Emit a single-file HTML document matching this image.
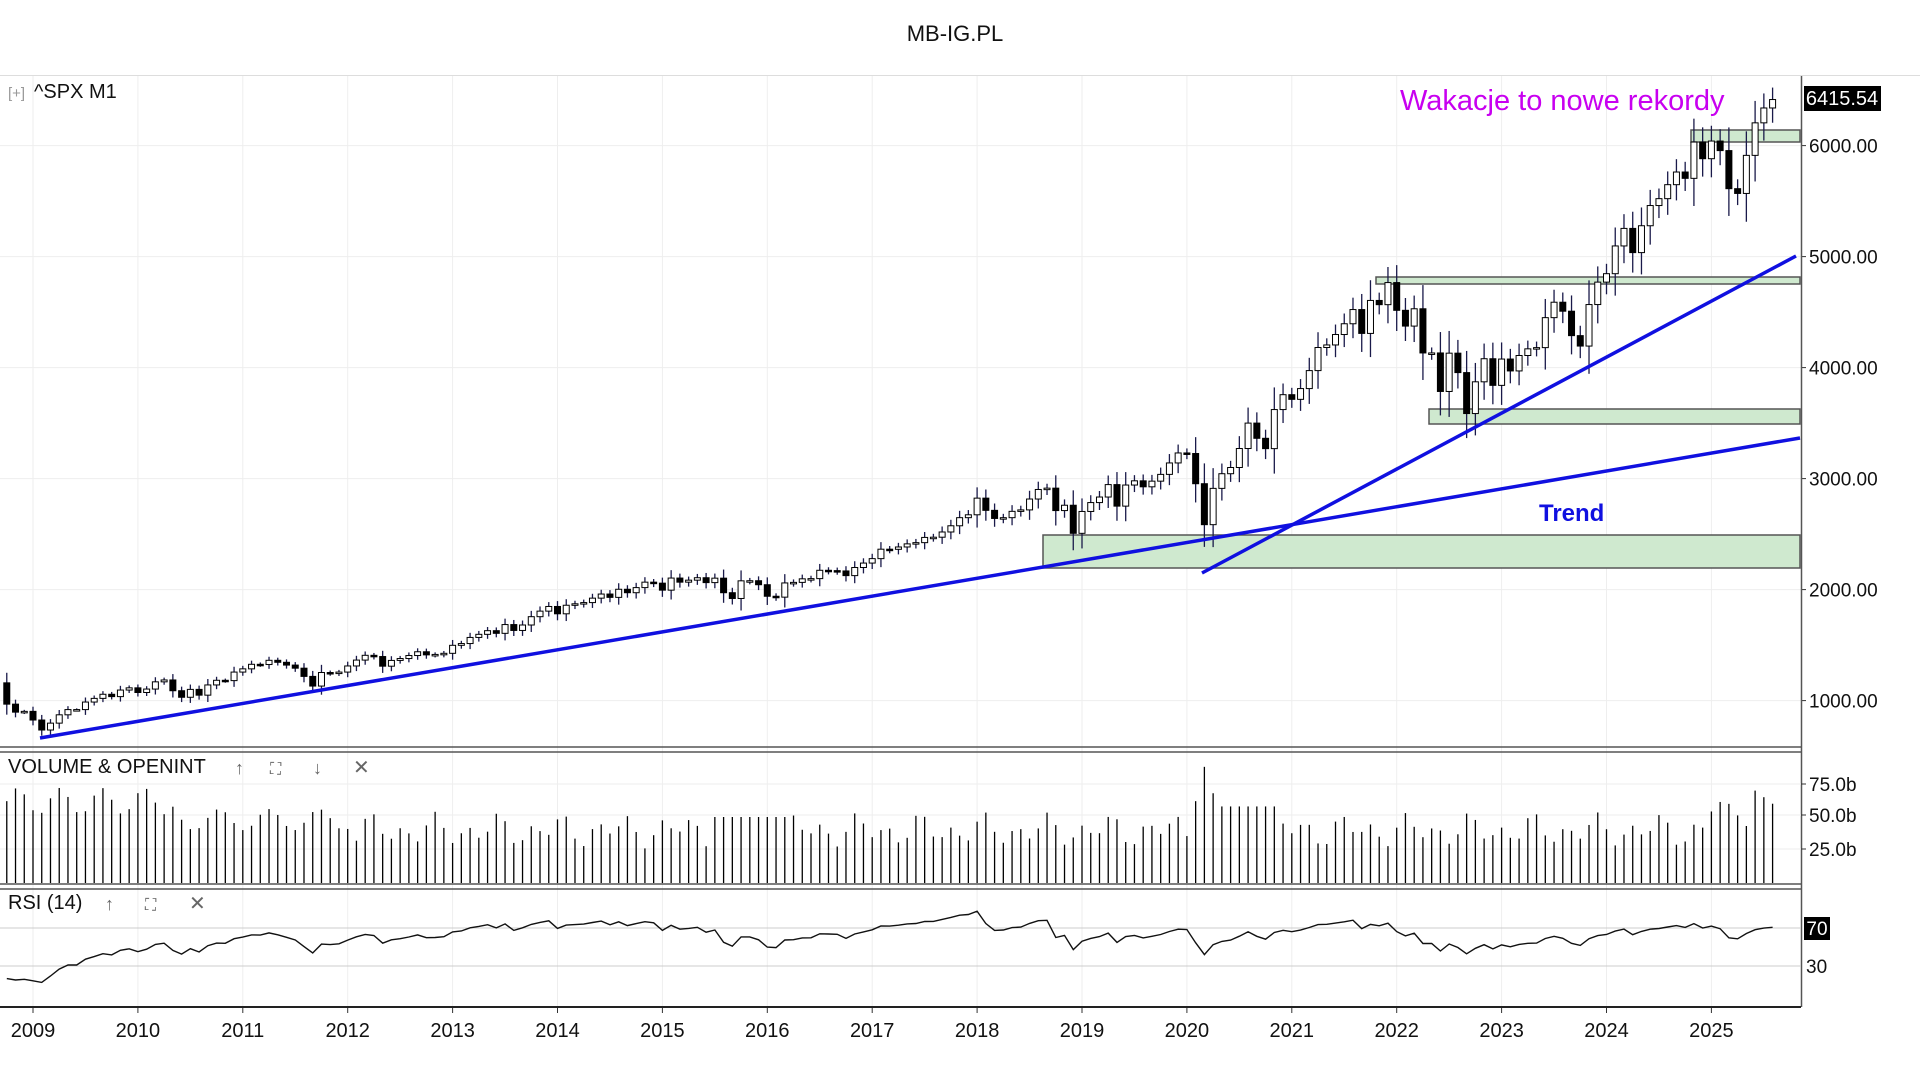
<!DOCTYPE html>
<html><head><meta charset="utf-8"><style>
html,body{margin:0;padding:0;background:#fff;width:1920px;height:1080px;overflow:hidden;font-family:"Liberation Sans",sans-serif}
</style></head><body>
<svg id="s" width="1920" height="1080" xmlns="http://www.w3.org/2000/svg" font-family="Liberation Sans, sans-serif"></svg>
<script>
const closes=[968,896,903,
825,735,797,872,919,919,987,1020,1057,1036,1095,1115,
1073,1104,1169,1186,1089,1030,1101,1049,1141,1183,1180,1257,
1286,1327,1325,1363,1345,1320,1292,1218,1131,1253,1246,1257,
1312,1365,1408,1397,1310,1362,1379,1406,1440,1412,1416,1426,
1498,1514,1569,1597,1630,1606,1685,1632,1681,1756,1806,1848,
1782,1859,1872,1883,1923,1960,1930,2003,1972,2018,2067,2058,
1995,2104,2067,2085,2107,2063,2103,1972,1920,2079,2080,2044,
1940,1932,2060,2065,2097,2099,2174,2171,2168,2126,2199,2239,
2279,2364,2363,2384,2412,2423,2470,2472,2519,2575,2648,2674,
2824,2714,2641,2648,2705,2718,2816,2902,2914,2712,2760,2507,
2704,2784,2834,2946,2752,2942,2980,2926,2977,3038,3141,3231,
3226,2954,2585,2912,3044,3100,3271,3500,3363,3270,3622,3756,
3714,3811,3973,4181,4204,4298,4395,4523,4308,4605,4567,4766,
4516,4374,4530,4132,4132,3785,4130,3955,3586,3872,4080,3840,
4077,3970,4109,4169,4180,4450,4589,4508,4288,4194,4568,4770,
4846,5096,5254,5036,5278,5460,5522,5648,5762,5705,6032,5882,
6041,5955,5612,5569,5912,6205,6339,6415];
const X=t=>33+(t-2009)*104.9;
const Y=p=>145.6+(6000-p)*0.111;
let h='';
// frame & grid
h+=`<text x="955" y="41" font-size="22" text-anchor="middle" fill="#111">MB-IG.PL</text>`;
h+=`<line x1="0" y1="75.5" x2="1920" y2="75.5" stroke="#ddd"/>`;
for(let y=2009;y<=2025;y++){const x=X(y);h+=`<line x1="${x}" y1="76" x2="${x}" y2="1007" stroke="#eee"/>`;
h+=`<line x1="${x}" y1="1007" x2="${x}" y2="1013" stroke="#333"/><text x="${x}" y="1037" font-size="20" text-anchor="middle" fill="#111">${y}</text>`;}
for(let p=1000;p<=6000;p+=1000){const y=Y(p);h+=`<line x1="0" y1="${y}" x2="1801" y2="${y}" stroke="#eee"/><line x1="1801" y1="${y}" x2="1806" y2="${y}" stroke="#333"/><text x="1809" y="${y+7}" font-size="19" fill="#111">${p}.00</text>`;}
// zones
const zone=(x1,y1,x2,y2)=>`<rect x="${x1}" y="${y1}" width="${x2-x1}" height="${y2-y1}" fill="#cfe9cf" stroke="#555" stroke-width="1.5"/>`;
h+=zone(1043,535,1800,568)+zone(1429,409,1800,424)+zone(1376,277,1800,284)+zone(1691,130,1800,142);
// candles
let prev=1160;
closes.forEach((c,i)=>{const t=2008.75+i/12;const x=X(t);const o=prev;prev=c;
 const vol=Math.abs(c-o)/o;const hi=Math.max(o,c)*(1.012+vol*0.4),lo=Math.min(o,c)*(0.985-vol*0.5);
 h+=`<line x1="${x}" y1="${Y(hi)}" x2="${x}" y2="${Y(lo)}" stroke="#1a1a4a" stroke-width="1.3"/>`;
 const yt=Y(Math.max(o,c)),yb=Y(Math.min(o,c));const hh=Math.max(yb-yt,1.5);
 h+=`<rect x="${x-3}" y="${yt}" width="6" height="${hh}" fill="${c>=o?'#fff':'#000'}" stroke="#000" stroke-width="1"/>`;});
// trend lines
h+=`<line x1="40" y1="738" x2="1800" y2="438" stroke="#1010e0" stroke-width="3.5"/>`;
h+=`<line x1="1202" y1="573" x2="1796" y2="256" stroke="#1010e0" stroke-width="3.5"/>`;
h+=`<text x="1400" y="110" font-size="29" fill="#c800f0">Wakacje to nowe rekordy</text>`;
h+=`<text x="1539" y="521" font-size="24" font-weight="bold" fill="#1010e0">Trend</text>`;
h+=`<text x="8" y="98" font-size="15" fill="#999">[+]</text><text x="34" y="98" font-size="20" fill="#111">^SPX  M1</text>`;
h+=`<rect x="1804" y="86" width="77" height="25" fill="#000"/><text x="1842" y="105" font-size="20" fill="#fff" text-anchor="middle">6415.54</text>`;
// axis line & separators
h+=`<line x1="1801.5" y1="76" x2="1801.5" y2="1007" stroke="#555" stroke-width="1.5"/>`;
h+=`<line x1="0" y1="747" x2="1801" y2="747" stroke="#555" stroke-width="1.5"/><line x1="0" y1="752" x2="1801" y2="752" stroke="#555" stroke-width="1.5"/>`;
h+=`<line x1="0" y1="884" x2="1801" y2="884" stroke="#555" stroke-width="1.5"/><line x1="0" y1="889" x2="1801" y2="889" stroke="#555" stroke-width="1.5"/>`;
h+=`<line x1="0" y1="1007" x2="1801" y2="1007" stroke="#222" stroke-width="2"/>`;
// volume
[[75,784],[50,815],[25,849]].forEach(([v,y])=>{h+=`<line x1="0" y1="${y}" x2="1801" y2="${y}" stroke="#eee"/><line x1="1801" y1="${y}" x2="1806" y2="${y}" stroke="#333"/><text x="1809" y="${y+7}" font-size="19" fill="#111">${v}.0b</text>`;});
closes.forEach((c,i)=>{const t=2008.75+i/12;const x=X(t);
 let v=40+8*Math.sin(i*1.7)+6*Math.cos(i*0.9);
 if(i<20)v=62+10*Math.sin(i*1.3); else if(i<40)v=48+8*Math.sin(i*1.1);
 if(i>=136&&i<=138)v=[62,88,68][i-136]; if(i>=139&&i<=145)v=58;
 if(i>=195)v=52+10*Math.sin(i); if(i==200)v=70; if(i==201)v=65;
 if(i>=81&&i<=89)v=50;
 h+=`<line x1="${x}" y1="883" x2="${x}" y2="${883-v*1.32}" stroke="#000" stroke-width="1.3"/>`;});
h+=`<text x="8" y="773" font-size="20" fill="#111">VOLUME &amp; OPENINT</text><text x="235" y="774" font-size="18" fill="#666">↑</text><text x="270" y="774" font-size="16" fill="#666">⛶</text><text x="313" y="774" font-size="18" fill="#666">↓</text><text x="353" y="774" font-size="20" fill="#666">✕</text>`;
// RSI
h+=`<line x1="0" y1="928" x2="1801" y2="928" stroke="#ccc"/><line x1="0" y1="966" x2="1801" y2="966" stroke="#ccc"/>`;
h+=`<rect x="1804" y="917" width="26" height="23" fill="#000"/><text x="1817" y="935" font-size="19" fill="#fff" text-anchor="middle">70</text><text x="1806" y="973" font-size="19" fill="#111">30</text>`;
let ag=10,al=35,pts=[];prev=1160;
closes.forEach((c,i)=>{const d=c-prev;prev=c;ag=(ag*13+Math.max(d,0))/14;al=(al*13+Math.max(-d,0))/14;
 const r=100-100/(1+ag/Math.max(al,1e-6));const x=X(2008.75+i/12);pts.push(x.toFixed(1)+','+(928-(r-70)*0.95).toFixed(1));});
h+=`<polyline points="${pts.join(' ')}" fill="none" stroke="#111" stroke-width="1.4"/>`;
h+=`<text x="8" y="909" font-size="20" fill="#111">RSI (14)</text><text x="105" y="910" font-size="18" fill="#666">↑</text><text x="145" y="910" font-size="16" fill="#666">⛶</text><text x="189" y="910" font-size="20" fill="#666">✕</text>`;
document.getElementById('s').innerHTML=h;
</script>
</body></html>
